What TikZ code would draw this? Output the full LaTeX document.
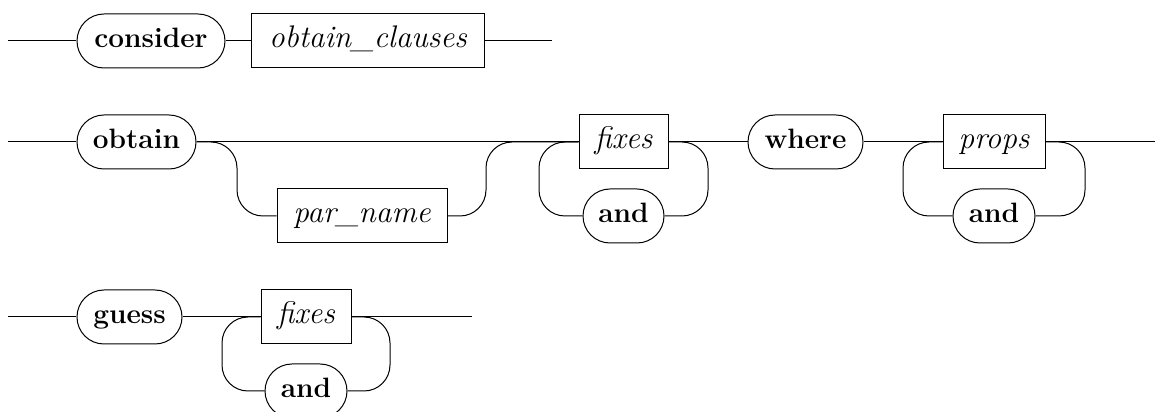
\documentclass[tikz,border=0pt]{standalone}
\usepackage{tikz}

\tikzset{
  term/.style={draw, rounded corners=10.8pt, minimum height=21.6pt,
    inner xsep=0pt, text height=8pt, text depth=2.4pt,
    font={\fontsize{11.2}{13}\selectfont\bfseries}},
  nonterm/.style={draw, minimum height=21.6pt,
    inner xsep=0pt, text height=8pt, text depth=2.4pt,
    font={\fontsize{12.5}{14}\selectfont\itshape}},
}

\begin{document}
\begin{tikzpicture}[x=0.4pt, y=-0.4pt]
        \useasboundingbox (0,0) rectangle (1155,412);

        %% -- consider ------------------------------------------------------
        \coordinate (s1) at (8,41);
        \node[term, minimum width=59.2pt] (consider) at (151,41) {consider};
        \node[nonterm, minimum width=92.8pt] (oclauses) at (368,41) {obtain\_clauses};
        \coordinate (e1) at (552,41);
        \draw (s1) -- (consider) -- (oclauses) -- (e1);

        %% -- obtain ... where ... -----------------------------------------
        \coordinate (s2) at (8,142);
        \node[term, minimum width=47.6pt] (obtain) at (136.5,142) {obtain};
        \node[nonterm, minimum width=68pt] (parname) at (362,216) {par\_name};
        \node[nonterm, minimum width=35.6pt] (fixes) at (623.5,142) {fixes};
        \node[term, minimum width=32.4pt] (and1) at (623.5,216) {and};
        \node[term, minimum width=46pt] (where) at (805.5,142) {where};
        \node[nonterm, minimum width=40.8pt] (props) at (994,142) {props};
        \node[term, minimum width=32.8pt] (and2) at (994,216) {and};
        \coordinate (e2) at (1155,142);
        \draw (s2) -- (obtain) -- (fixes) -- (where) -- (props) -- (e2);

        % optional par_name
        \coordinate (b1) at (237,216);
        \coordinate (b2) at (486,142);
        \draw[rounded corners=10.4pt] (obtain) -| (b1) -- (parname);
        \draw[rounded corners=10.4pt] (parname) -| (b2) -- (fixes);

        % repetition loops
        \coordinate (l1) at (539,216);
        \coordinate (r1) at (708,216);
        \draw[rounded corners=10.4pt] (fixes) -| (l1) -- (and1);
        \draw[rounded corners=10.4pt] (fixes) -| (r1) -- (and1);
        \coordinate (l2) at (903,216);
        \coordinate (r2) at (1085,216);
        \draw[rounded corners=10.4pt] (props) -| (l2) -- (and2);
        \draw[rounded corners=10.4pt] (props) -| (r2) -- (and2);

        %% -- guess ---------------------------------------------------------
        \coordinate (s3) at (8,317);
        \node[term, minimum width=42pt] (guess) at (129.5,317) {guess};
        \node[nonterm, minimum width=36pt] (fixesg) at (306,317) {fixes};
        \node[term, minimum width=32.8pt] (and3) at (306,391) {and};
        \coordinate (e3) at (472,317);
        \draw (s3) -- (guess) -- (fixesg) -- (e3);

        \coordinate (l3) at (222,391);
        \coordinate (r3) at (390,391);
        \draw[rounded corners=10.4pt] (fixesg) -| (l3) -- (and3);
        \draw[rounded corners=10.4pt] (fixesg) -| (r3) -- (and3);

    \end{tikzpicture}
\end{document}
